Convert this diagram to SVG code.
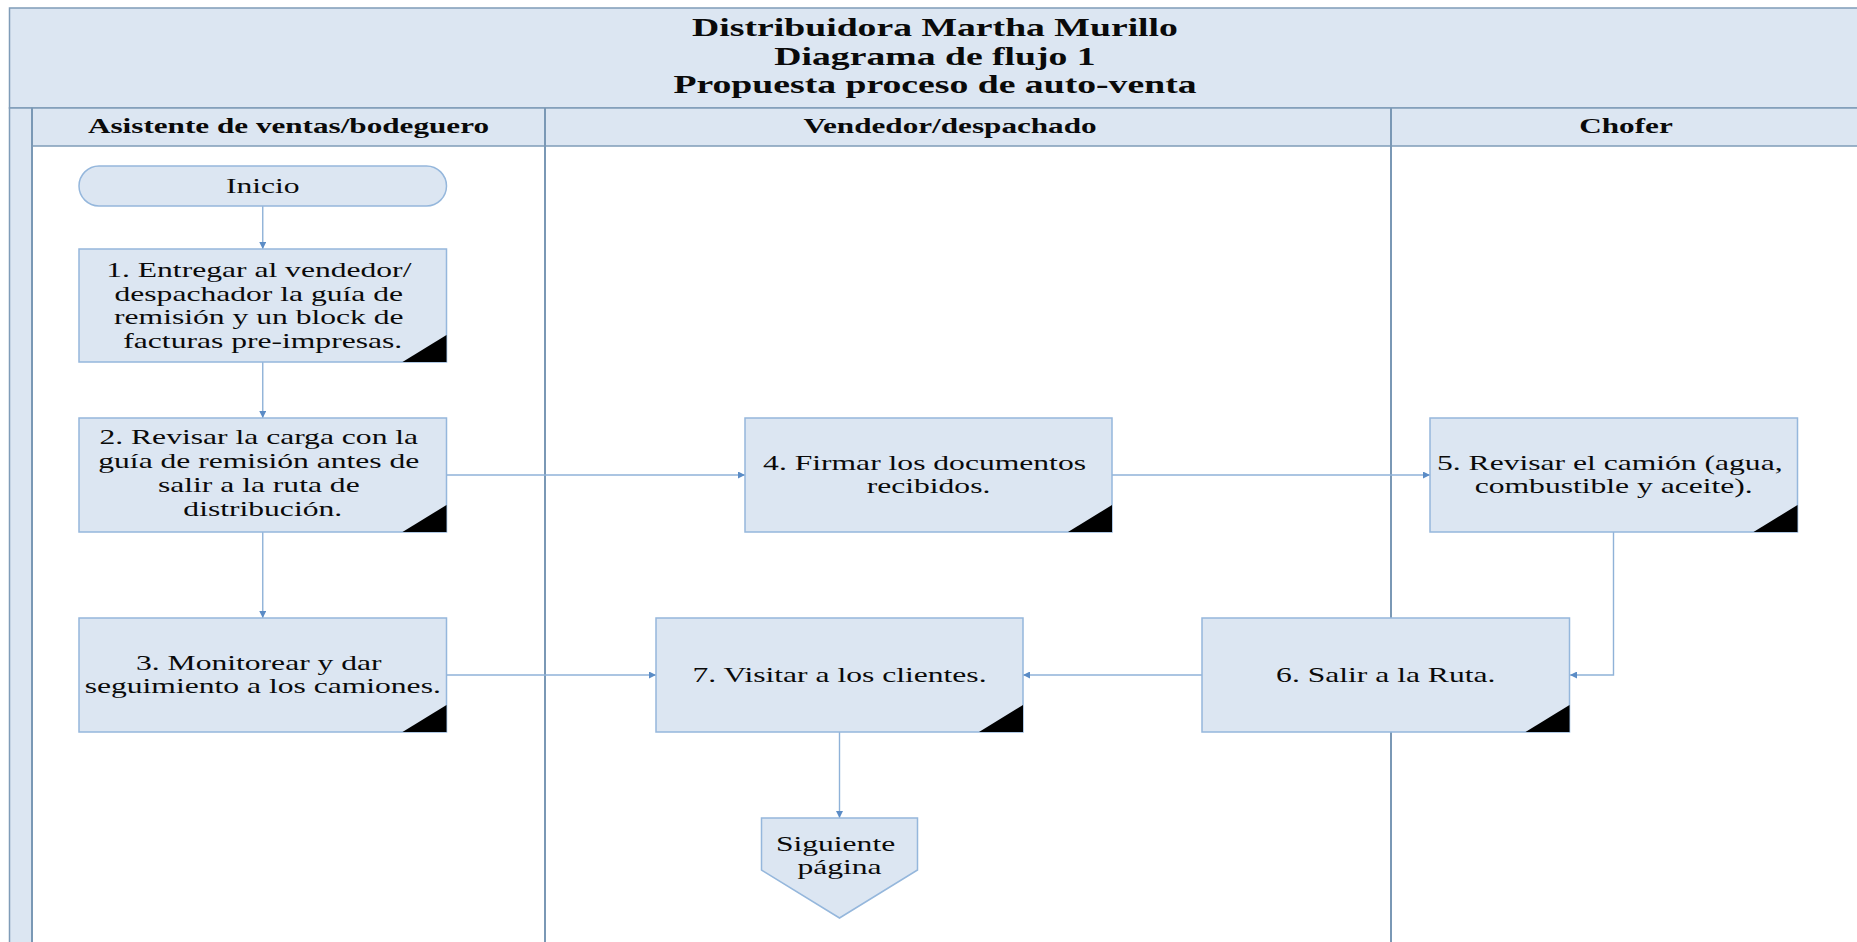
<svg xmlns="http://www.w3.org/2000/svg" width="1857" height="942" viewBox="0 0 1857 942">
  <defs>
    <style>
      .band { fill:#dce6f2; stroke:#7f9cb8; stroke-width:1.5; }
      .lane { stroke:#7a98b5; stroke-width:2; fill:none; }
      .box { fill:#dce6f2; stroke:#95b7dc; stroke-width:1.5; }
      .corner { fill:#000; }
      .conn { stroke:#8fb2d8; stroke-width:1.4; fill:none; marker-end:url(#arr); }
      .t { font-family:"Liberation Serif","Times New Roman",serif; font-size:21.5px; fill:#0a0a0a; text-anchor:middle; }
      .hd { font-family:"Liberation Serif","Times New Roman",serif; font-size:21.5px; font-weight:bold; fill:#0a0a0a; text-anchor:middle; }
      .ti { font-family:"Liberation Serif","Times New Roman",serif; font-size:26px; font-weight:bold; fill:#0a0a0a; text-anchor:middle; }
    </style>
    <marker id="arr" viewBox="0 0 10 10" refX="10" refY="5" markerWidth="7" markerHeight="7" markerUnits="userSpaceOnUse" orient="auto">
      <path d="M0,0 L10,5 L0,10 z" fill="#5b8cc6"/>
    </marker>
  </defs>

  <rect width="1857" height="942" fill="#fff"/>

  <!-- Pool frame, title band and lane headers -->
  <g id="pool">
    <rect class="band" x="9.5" y="8" width="1860" height="100"/>
    <rect class="band" x="9.5" y="108" width="22.5" height="850"/>
    <rect class="band" x="32" y="108" width="1840" height="38"/>
    <line class="lane" x1="32" y1="108" x2="32" y2="942"/>
    <line class="lane" x1="545" y1="108" x2="545" y2="942"/>
    <line class="lane" x1="1391" y1="108" x2="1391" y2="942"/>
    <text class="ti" transform="translate(935 0) scale(1.45 1)" y="36">Distribuidora Martha Murillo</text>
    <text class="ti" transform="translate(935 0) scale(1.45 1)" y="65">Diagrama de flujo 1</text>
    <text class="ti" transform="translate(935 0) scale(1.45 1)" y="93">Propuesta proceso de auto-venta</text>
    <text class="hd" transform="translate(288.5 0) scale(1.45 1)" y="133">Asistente de ventas/bodeguero</text>
    <text class="hd" transform="translate(950 0) scale(1.45 1)" y="133">Vendedor/despachado</text>
    <text class="hd" transform="translate(1626 0) scale(1.45 1)" y="133">Chofer</text>
  </g>

  <!-- Connectors -->
  <g id="connectors">
    <path class="conn" d="M262.75,206 L262.75,249"/>
    <path class="conn" d="M262.75,362 L262.75,418"/>
    <path class="conn" d="M262.75,532 L262.75,618"/>
    <path class="conn" d="M446.5,475 L745,475"/>
    <path class="conn" d="M1112,475 L1430,475"/>
    <path class="conn" d="M1613.5,532 L1613.5,675 L1570,675"/>
    <path class="conn" d="M1202,675 L1023,675"/>
    <path class="conn" d="M446.5,675 L656,675"/>
    <path class="conn" d="M839.5,732 L839.5,818"/>
  </g>

  <g id="inicio">
    <rect class="box" x="79" y="166" width="367.5" height="40" rx="20" ry="20"/>
    <text class="t" transform="translate(262.75 0) scale(1.47 1)" y="193">Inicio</text>
  </g>

  <g id="step1">
    <rect class="box" x="79" y="249" width="367.5" height="113"/>
    <path class="corner" d="M402.5,362 L446.5,335 L446.5,362 z"/>
    <text class="t" transform="translate(262.75 0) scale(1.47 1)">
      <tspan x="0" y="277">1. Entregar al vendedor/</tspan>
      <tspan x="0" y="301">despachador la guía de</tspan>
      <tspan x="0" y="324.5">remisión y un block de</tspan>
      <tspan x="0" y="348">facturas pre-impresas.</tspan>
    </text>
  </g>

  <g id="step2">
    <rect class="box" x="79" y="418" width="367.5" height="114"/>
    <path class="corner" d="M402.5,532 L446.5,505 L446.5,532 z"/>
    <text class="t" transform="translate(262.75 0) scale(1.47 1)">
      <tspan x="0" y="444">2. Revisar la carga con la</tspan>
      <tspan x="0" y="468">guía de remisión antes de</tspan>
      <tspan x="0" y="492">salir a la ruta de</tspan>
      <tspan x="0" y="516">distribución.</tspan>
    </text>
  </g>

  <g id="step3">
    <rect class="box" x="79" y="618" width="367.5" height="114"/>
    <path class="corner" d="M402.5,732 L446.5,705 L446.5,732 z"/>
    <text class="t" transform="translate(262.75 0) scale(1.47 1)">
      <tspan x="0" y="670">3. Monitorear y dar</tspan>
      <tspan x="0" y="693.5">seguimiento a los camiones.</tspan>
    </text>
  </g>

  <g id="step4">
    <rect class="box" x="745" y="418" width="367" height="114"/>
    <path class="corner" d="M1068,532 L1112,505 L1112,532 z"/>
    <text class="t" transform="translate(928.5 0) scale(1.47 1)">
      <tspan x="0" y="470">4. Firmar los documentos</tspan>
      <tspan x="0" y="493.5">recibidos.</tspan>
    </text>
  </g>

  <g id="step5">
    <rect class="box" x="1430" y="418" width="367.5" height="114"/>
    <path class="corner" d="M1753.5,532 L1797.5,505 L1797.5,532 z"/>
    <text class="t" transform="translate(1613.75 0) scale(1.47 1)">
      <tspan x="0" y="470">5. Revisar el camión (agua,</tspan>
      <tspan x="0" y="493.5">combustible y aceite).</tspan>
    </text>
  </g>

  <g id="step6">
    <rect class="box" x="1202" y="618" width="367.5" height="114"/>
    <path class="corner" d="M1525.5,732 L1569.5,705 L1569.5,732 z"/>
    <text class="t" transform="translate(1385.75 0) scale(1.47 1)" y="682">6. Salir a la Ruta.</text>
  </g>

  <g id="step7">
    <rect class="box" x="656" y="618" width="367" height="114"/>
    <path class="corner" d="M979,732 L1023,705 L1023,732 z"/>
    <text class="t" transform="translate(839.5 0) scale(1.47 1)" y="682">7. Visitar a los clientes.</text>
  </g>

  <g id="next-page">
    <path class="box" d="M761.5,818 L917.5,818 L917.5,870 L839.5,918 L761.5,870 z"/>
    <text class="t" transform="translate(839.5 0) scale(1.47 1)">
      <tspan x="0" y="851">Siguiente</tspan>
      <tspan x="0" y="874">página</tspan>
    </text>
  </g>
</svg>
